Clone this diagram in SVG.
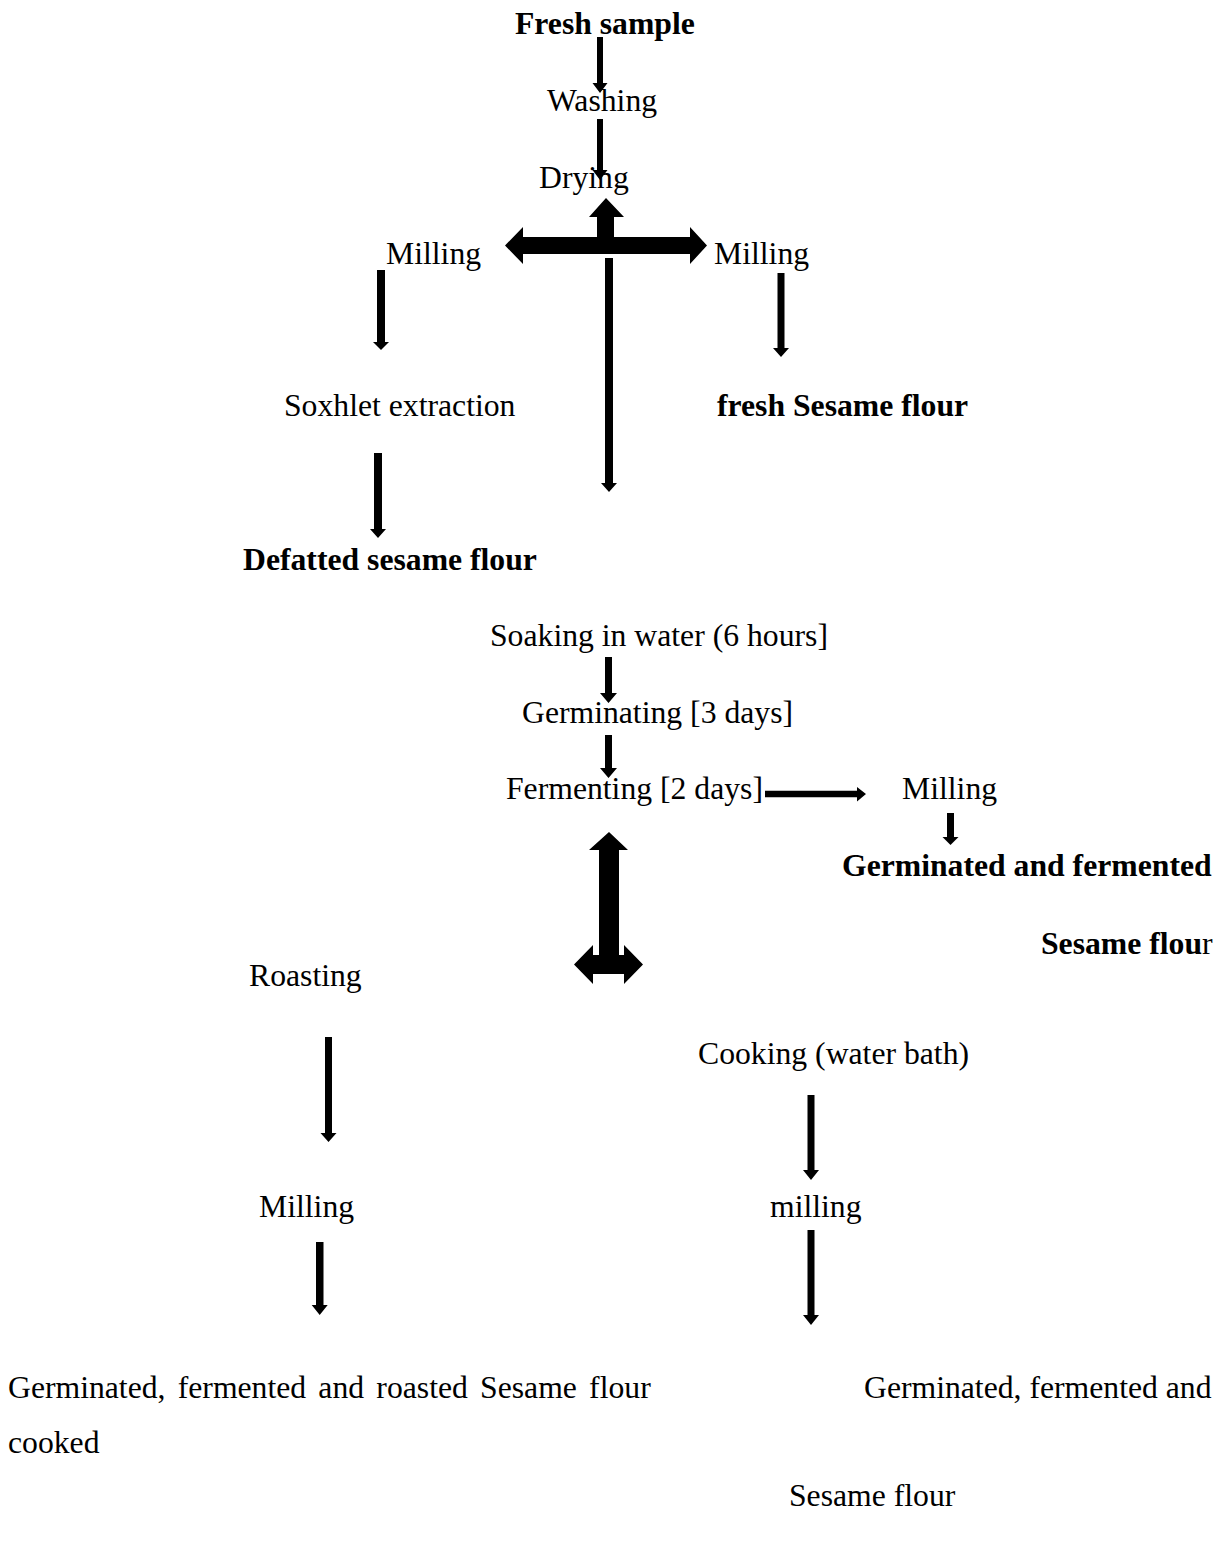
<svg xmlns="http://www.w3.org/2000/svg" width="1226" height="1543" viewBox="0 0 1226 1543">
<style>
text{font-family:"Liberation Serif","Times New Roman",serif;font-size:31.7px;fill:#000}
.b{font-weight:bold}
.arr{fill:#000;stroke:none}
</style>
<rect width="1226" height="1543" fill="#fff"/>
<g id="connectors">
<polygon class="arr" points="597,37 603,37 603,83 607.5,83 600,93 592.5,83 597,83"/>
<polygon class="arr" points="597,119 603,119 603,170 607.5,170 600,180 592.5,170 597,170"/>
<polygon class="arr" points="505,245.5 523,227 523,237 597,237 597,217 589,217 606,198 624,217 614,217 614,237 690,237 690,227 707,245.5 690,264 690,254 523,254 523,264"/>
<polygon class="arr" points="605,258 613,258 613,483 617,483 609,492 601,483 605,483"/>
<polygon class="arr" points="377,270 385,270 385,342 389,342 381,350 373,342 377,342"/>
<polygon class="arr" points="777.5,273 784.5,273 784.5,348 789,348 781,357 773,348 777.5,348"/>
<polygon class="arr" points="374,453 382,453 382,529 386,529 378,538 370,529 374,529"/>
<polygon class="arr" points="605,657 612,657 612,693 617,693 608.5,703 600,693 605,693"/>
<polygon class="arr" points="605,735 612,735 612,768 617,768 608.5,778 600,768 605,768"/>
<polygon class="arr" points="765,790.7 857,790.7 857,787 866,794 857,801.5 857,797.3 765,797.3"/>
<polygon class="arr" points="947,813 954,813 954,837 958.5,837 950.5,845 942.5,837 947,837"/>
<polygon class="arr" points="609,832 628,850 619,850 619,955 624,955 624,945 643,964.5 624,984 624,974 593,974 593,984 574,964.5 593,945 593,955 599,955 599,850 589,850"/>
<polygon class="arr" points="325,1037 332,1037 332,1133 336.5,1133 328.5,1142 320.5,1133 325,1133"/>
<polygon class="arr" points="316,1242 323.5,1242 323.5,1305 327.7,1305 319.7,1315 311.7,1305 316,1305"/>
<polygon class="arr" points="807.5,1095 814.5,1095 814.5,1170 819,1170 811,1180 803,1170 807.5,1170"/>
<polygon class="arr" points="807.5,1230 814.5,1230 814.5,1315 819,1315 811,1325 803,1315 807.5,1315"/>
</g>
<g id="n-fresh-sample"><text class="b" x="515" y="34">Fresh sample</text></g>
<g id="n-washing"><text x="547" y="111">Washing</text></g>
<g id="n-drying"><text x="539" y="188">Drying</text></g>
<g id="n-milling-l"><text x="386" y="264">Milling</text></g>
<g id="n-milling-r"><text x="714" y="264">Milling</text></g>
<g id="n-soxhlet"><text x="284" y="416">Soxhlet extraction</text></g>
<g id="n-fresh-flour"><text class="b" x="717" y="416">fresh Sesame flour</text></g>
<g id="n-defatted"><text class="b" x="243" y="570">Defatted sesame flour</text></g>
<g id="n-soaking"><text x="490" y="646">Soaking in water (6 hours]</text></g>
<g id="n-germinating"><text x="522" y="723">Germinating [3 days]</text></g>
<g id="n-fermenting"><text x="506" y="799">Fermenting [2 days]</text></g>
<g id="n-milling-f"><text x="902" y="799">Milling</text></g>
<g id="n-gf-flour"><text class="b" x="842" y="876">Germinated and fermented</text><text x="1041" y="954"><tspan class="b">Sesame flou</tspan>r</text></g>
<g id="n-roasting"><text x="249" y="986">Roasting</text></g>
<g id="n-cooking"><text x="698" y="1064">Cooking (water bath)</text></g>
<g id="n-milling-rl"><text x="259" y="1217">Milling</text></g>
<g id="n-milling-cl"><text x="770" y="1217">milling</text></g>
<g id="n-gfr-flour"><text x="8" y="1398" word-spacing="4.3">Germinated, fermented and roasted Sesame flour</text><text x="8" y="1453">cooked</text></g>
<g id="n-gfc-flour"><text x="864" y="1398">Germinated, fermented and</text><text x="789" y="1506">Sesame flour</text></g>
</svg>
